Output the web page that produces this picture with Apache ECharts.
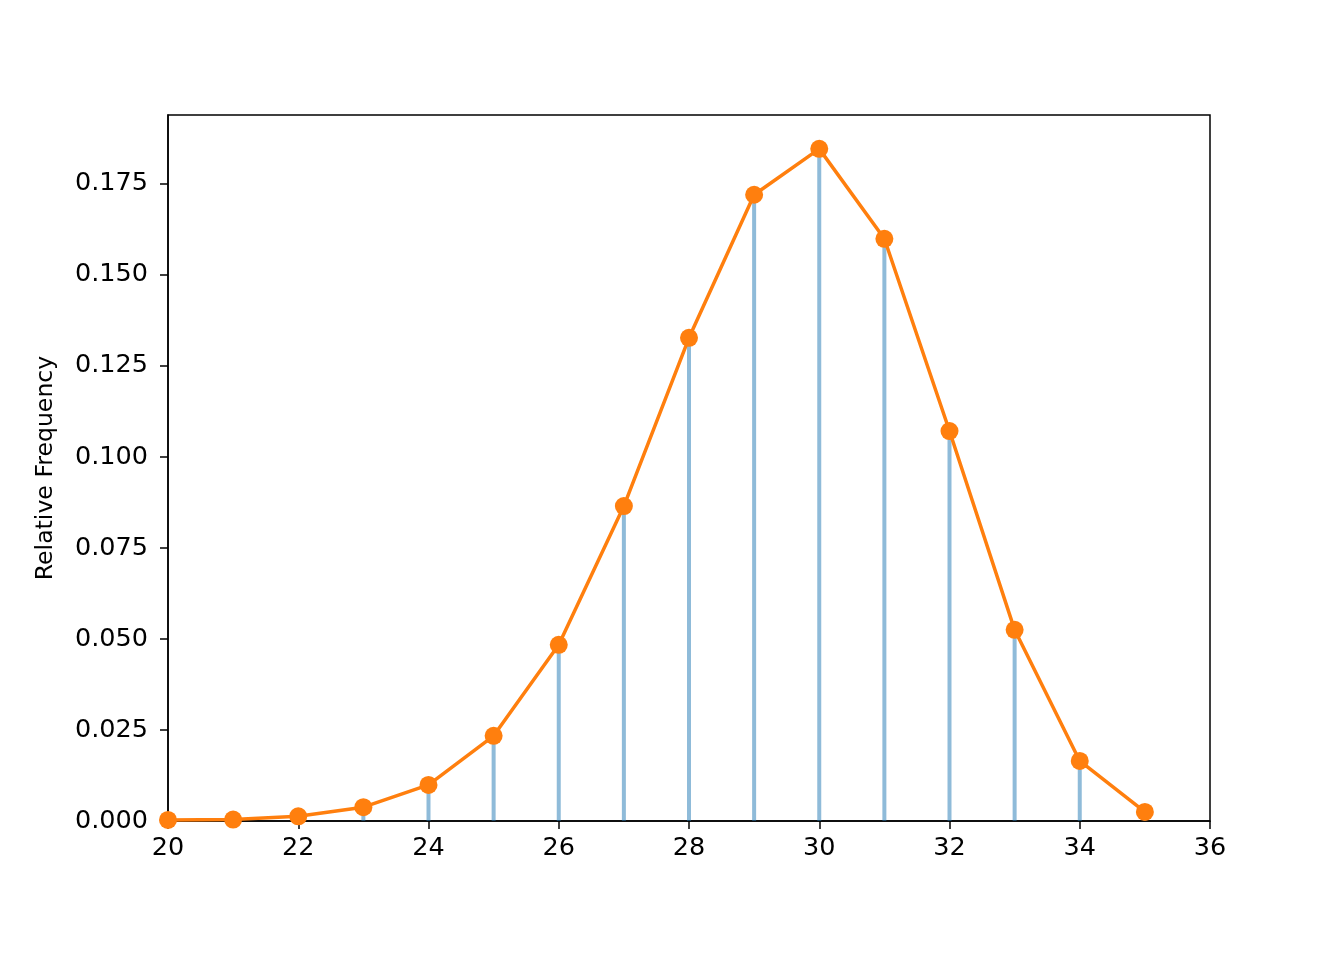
<!DOCTYPE html>
<html>
<head>
<meta charset="utf-8">
<script src="https://cdn.jsdelivr.net/npm/echarts@6/dist/echarts.min.js"></script>
<style>html,body{margin:0;padding:0;background:#fff}#c{width:1344px;height:960px}</style>
</head>
<body>
<div id="c"></div>
<script>
const xValues = [20, 21, 22, 23, 24, 25, 26, 27, 28, 29, 30, 31, 32, 33, 34, 35];
const relFreq = [0.0003, 0.0004, 0.0013, 0.0038, 0.0099, 0.0234, 0.0484, 0.0865, 0.1327, 0.1720, 0.1846, 0.1599, 0.1071, 0.0525, 0.0165, 0.0025];
const xTicks = [20, 22, 24, 26, 28, 30, 32, 34, 36];
const yTicks = [0, 0.025, 0.05, 0.075, 0.1, 0.125, 0.15, 0.175];

const pts = xValues.map((x, i) => [x, relFreq[i]]);
const font = 'DejaVu Sans';
const chart = echarts.init(document.getElementById('c'));
chart.setOption({
  animation: false,
  grid: { left: 168, right: 134, top: 115, bottom: 139, show: true, borderColor: '#000', borderWidth: 1.5, backgroundColor: 'transparent' },
  xAxis: {
    type: 'value', min: 20, max: 36, interval: 2,
    axisLine: { show: true, lineStyle: { color: '#000', width: 1.5 } },
    axisTick: { show: true, inside: false, length: 8, lineStyle: { color: '#000', width: 1.5 } },
    axisLabel: { color: '#000', fontFamily: font, fontSize: 25.5, margin: 14,
      formatter: v => xTicks.includes(v) ? String(v) : '' },
    splitLine: { show: false }
  },
  yAxis: {
    type: 'value', min: 0, max: 0.1939, interval: 0.025,
    name: 'Relative Frequency', nameLocation: 'middle', nameGap: 110, nameRotate: 90,
    nameTextStyle: { color: '#000', fontFamily: font, fontSize: 23.6 },
    axisLine: { show: true, lineStyle: { color: '#000', width: 1.5 } },
    axisTick: { show: true, inside: false, length: 8, lineStyle: { color: '#000', width: 1.5 } },
    axisLabel: { color: '#000', fontFamily: font, fontSize: 25.5, margin: 20, showMaxLabel: false,
      formatter: v => yTicks.some(t => Math.abs(t - v) < 1e-9) ? v.toFixed(3) : '' },
    splitLine: { show: false }
  },
  series: [
    {
      type: 'bar', data: pts, barWidth: 4, z: 1,
      itemStyle: { color: 'rgba(31,119,180,0.5)' }
    },
    {
      type: 'line', data: pts, z: 3,
      lineStyle: { color: '#ff7f0e', width: 3.5 },
      itemStyle: { color: '#ff7f0e' },
      symbol: 'circle', symbolSize: 18, showSymbol: true
    }
  ]
});
</script>
</body>
</html>
